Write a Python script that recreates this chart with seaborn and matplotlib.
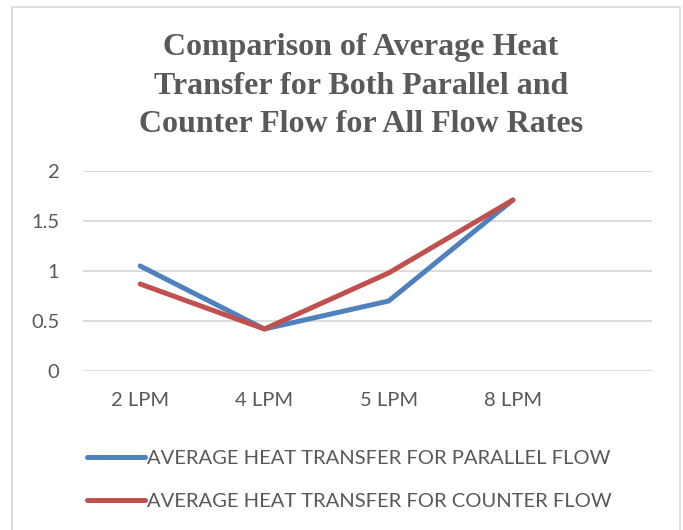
import matplotlib
matplotlib.use("Agg")
import matplotlib.pyplot as plt
import seaborn as sns
import pandas as pd
from matplotlib.patches import Rectangle

categories = ["2 LPM", "4 LPM", "5 LPM", "8 LPM"]
parallel = [1.05, 0.42, 0.70, 1.71]
counter = [0.87, 0.42, 0.98, 1.71]
series_names = ["AVERAGE HEAT TRANSFER FOR PARALLEL FLOW",
                "AVERAGE HEAT TRANSFER FOR COUNTER FLOW"]
yticks = [0, 0.5, 1, 1.5, 2]
ytick_labels = ["0", "0.5", "1", "1.5", "2"]
title = "Comparison of Average Heat\nTransfer for Both Parallel and\nCounter Flow for All Flow Rates"

df = pd.DataFrame({
    "Flow": categories * 2,
    "Value": parallel + counter,
    "Series": [series_names[0]] * len(categories) + [series_names[1]] * len(categories),
})

sns.set_theme(style="white")
plt.rcParams["font.family"] = ["Lato", "DejaVu Sans"]

W, H = 683, 530
fig = plt.figure(figsize=(W / 100, H / 100), dpi=100)
fig.patch.set_facecolor("white")

left, right, top, bottom = 83, 652, 171, 371
ax = fig.add_axes([left / W, 1 - bottom / H, (right - left) / W, (bottom - top) / H])

palette = {series_names[0]: "#4F81BD", series_names[1]: "#C0504D"}
sns.lineplot(data=df, x="Flow", y="Value", hue="Series", palette=palette,
             sort=False, linewidth=3.6, ax=ax, legend=True,
             solid_capstyle="round", solid_joinstyle="round")

ax.set_xlim(-0.46, 4.12)
ax.set_ylim(0, 2)
ax.set_yticks(yticks)
ax.set_yticklabels(ytick_labels)
ax.set_xlabel("")
ax.set_ylabel("")
for s in ax.spines.values():
    s.set_visible(False)
ax.grid(axis="y", color="#D9D9D9", linewidth=1.3)
ax.set_axisbelow(True)
ax.tick_params(axis="y", length=0, pad=17, labelsize=14.5, labelcolor="#595959")
ax.tick_params(axis="x", length=0, pad=15, labelsize=14.5, labelcolor="#595959")
for lab in ax.get_yticklabels():
    lab.set_clip_on(False)

handles, labels = ax.get_legend_handles_labels()
ax.legend(handles, labels, loc="upper left",
          bbox_to_anchor=(87 / W, 1 - 450 / H), bbox_transform=fig.transFigure,
          frameon=False, fontsize=14.5, labelcolor="#595959",
          handlelength=2.9, handletextpad=0.1, labelspacing=1.28,
          borderaxespad=0, borderpad=0)

fig.text(361 / W, 1 - 86 / H, title, ha="center", va="center",
         family="Liberation Serif", fontweight="bold", fontsize=23,
         color="#595959", linespacing=1.42)

fig.patches.append(Rectangle((12 / W, -0.01), (680 - 12) / W, 1 - 7 / H + 0.01,
                             transform=fig.transFigure, fill=False,
                             edgecolor="#D9D9D9", linewidth=1.2))

fig.savefig("out.png", dpi=100)
